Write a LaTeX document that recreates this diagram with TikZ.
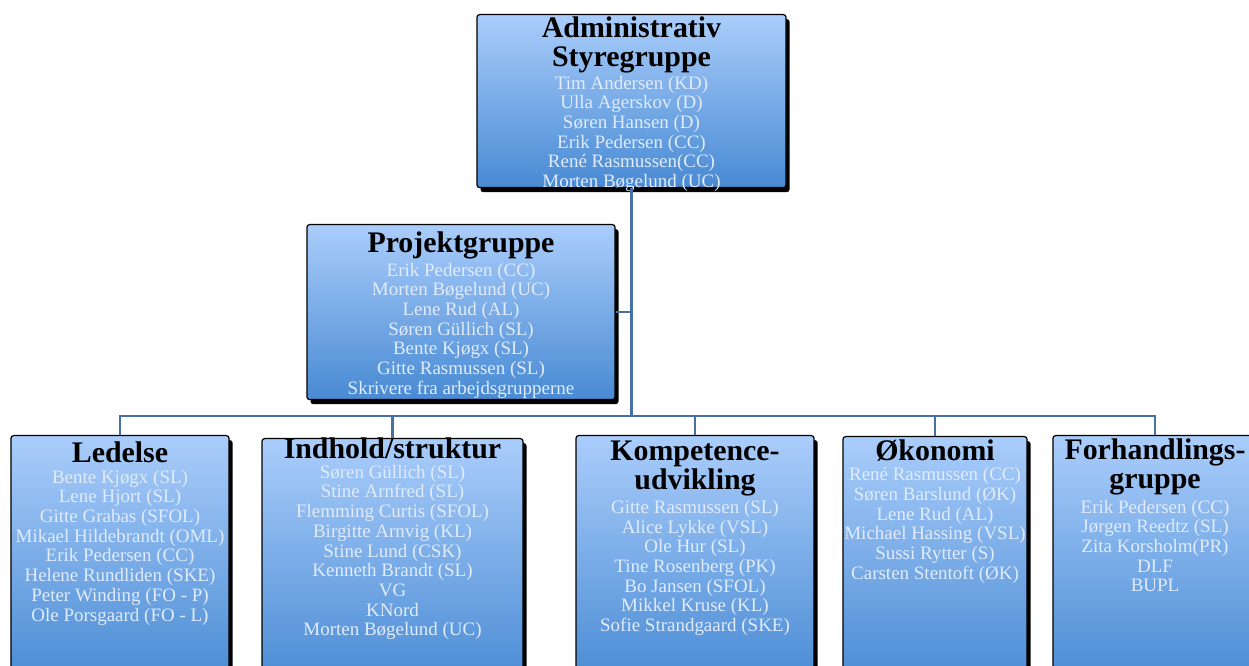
\documentclass[tikz,border=0pt]{standalone}
\usepackage{fontspec}
\setmainfont{Liberation Serif}
\usepackage{tikz}
\usetikzlibrary{positioning, shadows}
\definecolor{boxtop}{RGB}{170,205,251}
\definecolor{boxbot}{RGB}{72,138,211}
\definecolor{namecol}{RGB}{224,235,251}
\definecolor{linecol}{RGB}{72,112,164}

\begin{document}
\begin{tikzpicture}[
      grp/.style={draw=black, line width=0.7pt, rounded corners=1.5pt,
                  top color=boxtop, bottom color=boxbot, anchor=north, inner sep=0pt,
                  drop shadow={fill=black, opacity=1, shadow xshift=0.07cm, shadow yshift=-0.09cm}},
      ttl/.style={font=\fontsize{17}{16.5}\selectfont\bfseries, align=center, inner sep=0pt},
      nms/.style={font=\fontsize{10.8}{11.2}\selectfont, text=namecol, align=center, inner sep=0pt},
      conn/.style={draw=linecol, line width=1.2pt}
    ]
    \useasboundingbox (0,0) rectangle (24.98,13.32);
    \clip (0,0) rectangle (24.98,13.32);

    % --- Top: steering group ---
    \node[grp, minimum width=6.18cm, minimum height=3.46cm] (adm) at (12.63,13.04) {};
    \node[ttl, below=0.05cm of adm.north] (admT) {Administrativ\\Styregruppe};
    \node[nms, below=0.04cm of admT] (admN) {Tim Andersen (KD)\\Ulla Agerskov (D)\\Søren Hansen (D)\\
      Erik Pedersen (CC)\\René Rasmussen(CC)\\Morten Bøgelund (UC)};

    % --- Project group ---
    \node[grp, minimum width=6.16cm, minimum height=3.5cm] (proj) at (9.22,8.84) {};
    \node[ttl, below=0.14cm of proj.north] (projT) {Projektgruppe};
    \node[nms, below=0.07cm of projT] (projN) {Erik Pedersen (CC)\\Morten Bøgelund (UC)\\Lene Rud (AL)\\
      Søren Güllich (SL)\\Bente Kjøgx (SL)\\Gitte Rasmussen (SL)\\Skrivere fra arbejdsgrupperne};

    % --- Working groups ---
    \node[grp, minimum width=4.36cm, minimum height=5cm] (led) at (2.40,4.62) {};
    \node[ttl, below=0.12cm of led.north] (ledT) {Ledelse};
    \node[nms, below=0.14cm of ledT] (ledN) {Bente Kjøgx (SL)\\Lene Hjort (SL)\\Gitte Grabas (SFOL)\\
      Mikael Hildebrandt (OML)\\Erik Pedersen (CC)\\Helene Rundliden (SKE)\\Peter Winding (FO - P)\\
      Ole Porsgaard (FO - L)};

    \node[grp, minimum width=5.22cm, minimum height=5cm] (ind) at (7.85,4.56) {};
    \node[ttl, below=-0.02cm of ind.north] (indT) {Indhold/struktur};
    \node[nms, below=0.12cm of indT] (indN) {Søren Güllich (SL)\\Stine Arnfred (SL)\\Flemming Curtis (SFOL)\\
      Birgitte Arnvig (KL)\\Stine Lund (CSK)\\Kenneth Brandt (SL)\\VG\\KNord\\Morten Bøgelund (UC)};

    \node[grp, minimum width=4.76cm, minimum height=5cm] (komp) at (13.90,4.62) {};
    \node[ttl, below=0.12cm of komp.north] (kompT) {Kompetence-\\udvikling};
    \node[nms, below=0.06cm of kompT] (kompN) {Gitte Rasmussen (SL)\\Alice Lykke (VSL)\\Ole Hur (SL)\\
      Tine Rosenberg (PK)\\Bo Jansen (SFOL)\\Mikkel Kruse (KL)\\Sofie Strandgaard (SKE)};

    \node[grp, minimum width=3.68cm, minimum height=5cm] (oko) at (18.70,4.60) {};
    \node[ttl, below=0.06cm of oko.north] (okoT) {Økonomi};
    \node[nms, below=0.12cm of okoT] (okoN) {René Rasmussen (CC)\\Søren Barslund (ØK)\\Lene Rud (AL)\\
      Michael Hassing (VSL)\\Sussi Rytter (S)\\Carsten Stentoft (ØK)};

    \node[grp, minimum width=4.08cm, minimum height=5cm] (forh) at (23.10,4.62) {};
    \node[ttl, below=0.07cm of forh.north] (forhT) {Forhandlings-\\gruppe};
    \node[nms, below=0.08cm of forhT] (forhN) {Erik Pedersen (CC)\\Jørgen Reedtz (SL)\\Zita Korsholm(PR)\\
      DLF\\BUPL};

    % --- Connectors ---
    \coordinate (bus) at (adm.south |- 0,5.0);
    \draw[conn] (adm.south) -- (bus);
    \draw[conn] (proj.east) -- (proj.east -| bus);
    \draw[conn] (bus) -| (led.north);
    \draw[conn] (bus) -| (ind.north);
    \draw[conn] (bus) -| (komp.north);
    \draw[conn] (bus) -| (oko.north);
    \draw[conn] (bus) -| (forh.north);

  \end{tikzpicture}
\end{document}
